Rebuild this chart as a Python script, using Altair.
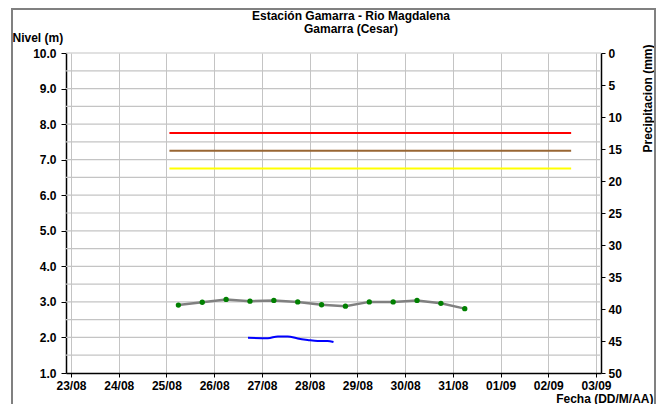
import altair as alt
import pandas as pd

# ---- data ----
nivel_fecha = ["2013-08-25T06:00", "2013-08-25T18:00", "2013-08-26T06:00", "2013-08-26T18:00",
               "2013-08-27T06:00", "2013-08-27T18:00", "2013-08-28T06:00", "2013-08-28T18:00",
               "2013-08-29T06:00", "2013-08-29T18:00", "2013-08-30T06:00", "2013-08-30T18:00",
               "2013-08-31T06:00"]
nivel_m = [2.91, 2.99, 3.07, 3.02, 3.04, 3.00, 2.92, 2.88, 3.00, 3.00, 3.04, 2.96, 2.81]

sensor_fecha = ["2013-08-26T17:00", "2013-08-27T03:00", "2013-08-27T08:00", "2013-08-27T13:00",
                "2013-08-27T18:00", "2013-08-27T23:00", "2013-08-28T04:00", "2013-08-28T09:00",
                "2013-08-28T12:00"]
sensor_m = [1.99, 1.98, 2.03, 2.03, 1.97, 1.93, 1.90, 1.90, 1.87]

umbral_nombre = ["Roja", "Naranja", "Amarilla"]
umbral_m = [7.75, 7.25, 6.75]
umbral_color = ["#FF0000", "#996633", "#FFFF00"]
umbral_inicio = "2013-08-25T01:30"
umbral_fin = "2013-09-02T11:30"

precip_fecha = []
precip_mm = []

nivel_ticks = [1, 2, 3, 4, 5, 6, 7, 8, 9, 10]
nivel_grid = [1.5, 2.0, 2.5, 3.0, 3.5, 4.0, 4.5, 5.0, 5.5, 6.0, 6.5, 7.0, 7.5, 8.0, 8.5, 9.0, 9.5, 10.0]
precip_ticks = [0, 5, 10, 15, 20, 25, 30, 35, 40, 45, 50]

titulo = ["Estación Gamarra - Rio Magdalena", "Gamarra (Cesar)"]

FONT = "Liberation Sans"
GRID = "#c4c4c4"

nivel_df = pd.DataFrame({"fecha": nivel_fecha, "nivel": nivel_m})
sensor_df = pd.DataFrame({"fecha": sensor_fecha, "nivel": sensor_m})
umbral_df = pd.DataFrame({"nombre": umbral_nombre, "nivel": umbral_m, "color": umbral_color,
                          "ini": [umbral_inicio] * 3, "fin": [umbral_fin] * 3})
grid_df = pd.DataFrame({"g": nivel_grid})
precip_df = pd.DataFrame({"fecha": pd.Series(precip_fecha, dtype="object"),
                          "mm": pd.Series(precip_mm, dtype="float")})

x_scale = alt.Scale(domain=[alt.DateTime(year=2013, month=8, date=23),
                            alt.DateTime(year=2013, month=9, date=3)], nice=False)
x_axis = alt.Axis(format="%d/%m", tickCount={"interval": "day", "step": 1},
                  grid=True, gridColor=GRID, tickSize=4, labelPadding=3,
                  title="Fecha (DD/M/AA)", titleX=587, titleY=29, titleAlign="right",
                  titleBaseline="alphabetic", titleAngle=0)
y_scale = alt.Scale(domain=[1, 10], nice=False)
y_axis = alt.Axis(values=nivel_ticks, format=".1f",
                  grid=False, tickSize=5, labelPadding=5,
                  title="Nivel (m)", titleX=-54, titleY=-12, titleAngle=0,
                  titleAlign="left", titleBaseline="alphabetic")

X = alt.X("fecha:T", scale=x_scale, axis=x_axis)
Y = alt.Y("nivel:Q", scale=y_scale, axis=y_axis)

rejilla = alt.Chart(grid_df).mark_rule(color=GRID, strokeWidth=1.2).encode(
    y=alt.Y("g:Q", scale=y_scale, axis=y_axis)
)

umbrales = alt.Chart(umbral_df).mark_rule(strokeWidth=2).encode(
    x=alt.X("ini:T", scale=x_scale, axis=x_axis),
    x2="fin:T",
    y=alt.Y("nivel:Q", scale=y_scale, axis=y_axis),
    color=alt.Color("color:N", scale=None),
)

sensor = alt.Chart(sensor_df).mark_line(color="#0000FF", strokeWidth=2, interpolate="monotone").encode(x=X, y=Y)
linea = alt.Chart(nivel_df).mark_line(color="#808080", strokeWidth=2.5).encode(x=X, y=Y)
puntos = alt.Chart(nivel_df).mark_circle(color="#008000", size=28, opacity=1).encode(x=X, y=Y)

t1 = alt.Chart(pd.DataFrame({"t": [titulo[0]]})).mark_text(
    font=FONT, fontWeight="bold", fontSize=12, color="black", align="center", baseline="alphabetic"
).encode(text="t:N", x=alt.value(285), y=alt.value(-33))
t2 = alt.Chart(pd.DataFrame({"t": [titulo[1]]})).mark_text(
    font=FONT, fontWeight="bold", fontSize=12, color="black", align="center", baseline="alphabetic"
).encode(text="t:N", x=alt.value(285), y=alt.value(-20))

marco = alt.Chart(pd.DataFrame({"a": [0]})).mark_rect(
    fill=None, stroke="#808080", strokeWidth=2
).encode(x=alt.value(-54), x2=alt.value(589), y=alt.value(-44), y2=alt.value(420))

nivel_layer = alt.layer(rejilla, marco, umbrales, sensor, linea, puntos, t1, t2)

precip = alt.Chart(precip_df).mark_bar(color="#4F81BD").encode(
    x=alt.X("fecha:T", scale=x_scale, axis=x_axis),
    y=alt.Y("mm:Q", scale=alt.Scale(domain=[0, 50], reverse=True),
            axis=alt.Axis(orient="right", values=precip_ticks, grid=False,
                          tickSize=4, labelPadding=3,
                          title="Precipitacion (mm)", titleAngle=270, titleX=46, titleY=45,
                          titleAlign="center", titleBaseline="middle")),
)

chart = alt.layer(nivel_layer, precip).resolve_scale(y="independent").properties(
    width=535, height=320,
    autosize=alt.AutoSizeParams(type="none"),
    padding={"left": 58, "top": 45, "right": 55, "bottom": 31},
).configure_view(strokeWidth=0).configure_axis(
    labelFont=FONT, labelFontWeight="bold", labelFontSize=12, labelColor="black",
    titleFont=FONT, titleFontWeight="bold", titleFontSize=12, titleColor="black",
    domainColor="black", domainWidth=1.5, tickColor="black", tickWidth=1,
)

chart.save("out.html", embed_options={"renderer": "svg", "actions": False})
